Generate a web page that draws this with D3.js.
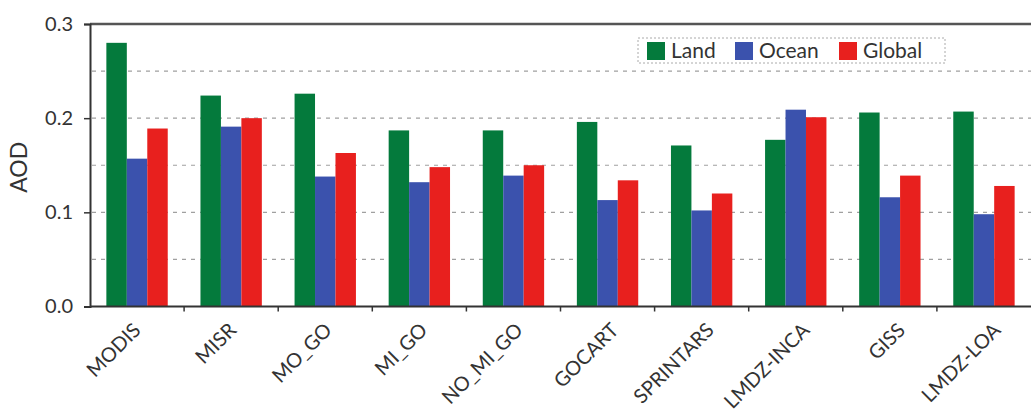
<!DOCTYPE html>
<meta charset="utf-8">
<script src="https://d3js.org/d3.v7.min.js"></script>
<style>
  body { margin: 0; background: #fff; }
  text { font-family: Lato, "Open Sans", sans-serif; fill: #333; }
</style>
<body>
<div id="chart"></div>
<script>

// data
var models = ["MODIS", "MISR", "MO_GO", "MI_GO", "NO_MI_GO", "GOCART", "SPRINTARS", "LMDZ-INCA", "GISS", "LMDZ-LOA"];
var series = ["Land", "Ocean", "Global"];
var land   = [0.280, 0.224, 0.226, 0.187, 0.187, 0.196, 0.171, 0.177, 0.206, 0.207];
var ocean  = [0.157, 0.191, 0.138, 0.132, 0.139, 0.113, 0.102, 0.209, 0.116, 0.098];
var global = [0.189, 0.200, 0.163, 0.148, 0.150, 0.134, 0.120, 0.201, 0.139, 0.128];
var yTicks = [0.0, 0.1, 0.2, 0.3];
var gridVals = [0.05, 0.1, 0.15, 0.2, 0.25];

var colors = {Land: "#047a3c", Ocean: "#3b52ad", Global: "#e8201e"};
var values = {Land: land, Ocean: ocean, Global: global};

var width = 1031, height = 417;
var pLeft = 90, pRight = 1031, pTop = 24, pBottom = 306.5;

var svg = d3.select("#chart")
  .append("svg")
    .attr("width", width)
    .attr("height", height);

var x0 = d3.scaleBand()
  .domain(models)
  .range([pLeft, pRight]);

var x1 = d3.scaleBand()
  .domain(series)
  .range([0, x0.bandwidth()])
  .paddingInner(0)
  .paddingOuter(0.8);

// the rotated labels drift a little to the right of the groups in the original
var xLabel = d3.scalePoint()
  .domain(models)
  .range([137, 997]);

var y = d3.scaleLinear()
  .domain([0, 0.3])
  .range([pBottom, pTop]);

// grid
svg.append("g")
  .selectAll("line")
  .data(gridVals)
  .enter().append("line")
    .attr("x1", pLeft + 2)
    .attr("x2", pRight)
    .attr("y1", function(d) { return y(d); })
    .attr("y2", function(d) { return y(d); })
    .attr("stroke", "#a0a0a0")
    .attr("stroke-width", 1.2)
    .attr("stroke-dasharray", "4,5");

// bars
var rows = models.map(function(m, i) {
  return { model: m, vals: series.map(function(s) { return { key: s, value: values[s][i] }; }) };
});

svg.append("g")
  .selectAll("g")
  .data(rows)
  .enter().append("g")
    .attr("transform", function(d) { return "translate(" + x0(d.model) + ",0)"; })
  .selectAll("rect")
  .data(function(d) { return d.vals; })
  .enter().append("rect")
    .attr("x", function(d) { return x1(d.key); })
    .attr("width", x1.bandwidth())
    .attr("y", function(d) { return y(d.value); })
    .attr("height", function(d) { return y(0) - y(d.value); })
    .attr("fill", function(d) { return colors[d.key]; });

// top border
svg.append("line")
  .attr("x1", pLeft).attr("x2", pRight)
  .attr("y1", pTop).attr("y2", pTop)
  .attr("stroke", "#555")
  .attr("stroke-width", 2.5);

// y axis
var yAxis = svg.append("g")
  .attr("transform", "translate(" + pLeft + ",0)")
  .call(d3.axisLeft(y).tickValues(yTicks).tickFormat(d3.format(".1f")).tickSize(6).tickPadding(11));
yAxis.select(".domain").attr("stroke", "#333").attr("stroke-width", 2);
yAxis.selectAll(".tick line").attr("stroke", "#333").attr("stroke-width", 1.5);
yAxis.selectAll(".tick text").style("font-size", "20px").attr("fill", "#444");

svg.append("text")
  .attr("transform", "translate(19," + ((pTop + pBottom) / 2 + 2) + ") rotate(-90)")
  .attr("text-anchor", "middle")
  .attr("dy", "0.35em")
  .style("font-size", "23px")
  .attr("fill", "#444")
  .text("AOD");

// x axis with separator ticks
svg.append("line")
  .attr("x1", pLeft).attr("x2", pRight)
  .attr("y1", pBottom).attr("y2", pBottom)
  .attr("stroke", "#333")
  .attr("stroke-width", 2);

svg.append("g")
  .selectAll("line")
  .data(models.slice(1))
  .enter().append("line")
    .attr("x1", function(d) { return x0(d); })
    .attr("x2", function(d) { return x0(d); })
    .attr("y1", pBottom)
    .attr("y2", pBottom + 5)
    .attr("stroke", "#333")
    .attr("stroke-width", 1.5);

svg.append("g")
  .selectAll("text")
  .data(models)
  .enter().append("text")
    .attr("transform", function(d) {
      return "translate(" + xLabel(d) + "," + (pBottom + 20) + ") rotate(-45)";
    })
    .attr("text-anchor", "end")
    .attr("dy", "0.35em")
    .style("font-size", "20px")
    .attr("fill", "#333")
    .text(function(d) { return d; });

// legend
var legend = svg.append("g");
legend.append("rect")
  .attr("x", 638).attr("y", 38)
  .attr("width", 307).attr("height", 25)
  .attr("fill", "#fff")
  .attr("stroke", "#aaa")
  .attr("stroke-dasharray", "2,2");

var legX = [647, 735, 839];
series.forEach(function(s, i) {
  legend.append("rect")
    .attr("x", legX[i]).attr("y", 42)
    .attr("width", 18).attr("height", 18)
    .attr("fill", colors[s]);
  legend.append("text")
    .attr("x", legX[i] + 24).attr("y", 58)
    .style("font-size", "21px")
    .attr("fill", "#333")
    .text(s);
});

</script>
</body>
</html>
